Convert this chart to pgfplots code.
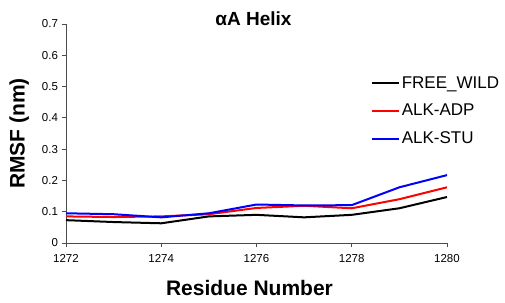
\documentclass[border=0pt]{standalone}
\usepackage{fontspec}
\setmainfont{Liberation Sans}
\usepackage{pgfplots}
\pgfplotsset{compat=1.18}
\begin{document}
\begin{tikzpicture}[x=1pt,y=1pt]
\useasboundingbox (0,0) rectangle (505,302);
\begin{axis}[
  at={(66pt,59pt)}, anchor=south west,
  scale only axis, width=381pt, height=219pt,
  xmin=1272, xmax=1280, ymin=0, ymax=0.7,
  xtick={1272,1274,1276,1278,1280},
  ytick={0,0.1,0.2,0.3,0.4,0.5,0.6,0.7},
  yticklabels={0,0.1,0.2,0.3,0.4,0.5,0.6,0.7},
  xticklabels={1272,1274,1276,1278,1280},
  axis x line*=bottom, axis y line*=left,
  axis line style={draw=black!70, line width=0.9pt, -},
  tick style={draw=black!70, line width=0.9pt},
  tick align=outside, major tick length=4.5pt,
  tick label style={font=\fontsize{11.5}{13}\selectfont},
  /pgf/number format/assume math mode=true,
  xticklabel style={yshift=-3pt},
  title={\bfseries αA Helix},
  title style={font=\fontsize{19}{21}\selectfont, at={(rel axis cs:0.492,1)}, anchor=center, yshift=-1pt},
  xlabel={\bfseries Residue Number},
  xlabel style={font=\fontsize{21}{23}\selectfont, at={(rel axis cs:0.4816,0)}, anchor=center, yshift=-45pt},
  ylabel={\bfseries RMSF (nm)},
  ylabel style={font=\fontsize{21}{23}\selectfont, at={(axis description cs:-0.123,0.5)}, anchor=center},
  legend style={draw=none, fill=none, font=\fontsize{17}{19}\selectfont, at={(rel axis cs:0.80,0.77)}, anchor=north west, row sep=10.5pt, inner sep=0pt},
  legend image code/.code={\draw[#1, line width=1.8pt] plot coordinates {(0pt,0pt) (13.5pt,0pt) (27pt,0pt)};},
  legend cell align=left,
  clip=false,
]
\addplot[black, line width=2pt] coordinates {
(1272,0.073) (1273,0.067) (1274,0.063) (1275,0.085) (1276,0.090) (1277,0.082) (1278,0.090) (1279,0.111) (1280,0.147)};
\addlegendentry{FREE\_WILD}
\addplot[red, line width=2pt] coordinates {
(1272,0.085) (1273,0.083) (1274,0.085) (1275,0.092) (1276,0.112) (1277,0.119) (1278,0.111) (1279,0.140) (1280,0.178)};
\addlegendentry{ALK-ADP}
\addplot[blue, line width=2pt] coordinates {
(1272,0.095) (1273,0.092) (1274,0.082) (1275,0.095) (1276,0.123) (1277,0.120) (1278,0.121) (1279,0.178) (1280,0.217)};
\addlegendentry{ALK-STU}
\end{axis}
\end{tikzpicture}
\end{document}
